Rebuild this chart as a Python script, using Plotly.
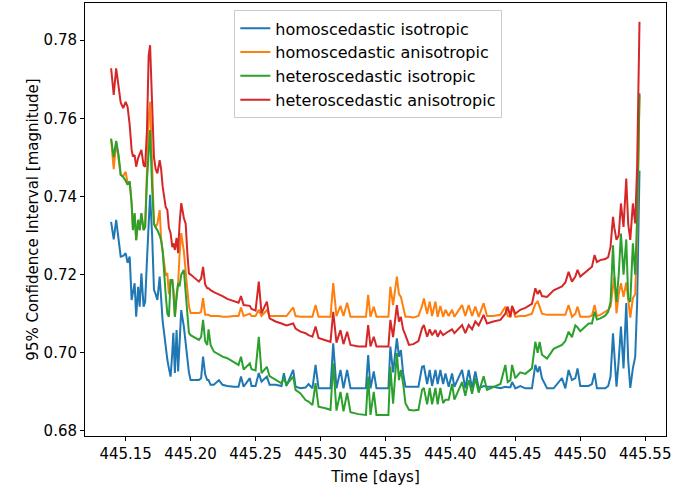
import plotly.graph_objects as go

time_days = [445.1388, 445.1408, 445.1427, 445.1446, 445.1462, 445.1481, 445.1500, 445.1515, 445.1531, 445.1546,
             445.1556, 445.1569, 445.1581, 445.1596, 445.1608, 445.1621, 445.1638, 445.1650, 445.1664, 445.1677,
             445.1688, 445.1704, 445.1718, 445.1731, 445.1744, 445.1762, 445.1773, 445.1785, 445.1796, 445.1808,
             445.1821, 445.1833, 445.1846, 445.1859, 445.1867, 445.1879, 445.1892, 445.1904, 445.1915, 445.1928,
             445.1948, 445.1962, 445.1975, 445.1987, 445.2000, 445.2031, 445.2064, 445.2081, 445.2096, 445.2112,
             445.2128, 445.2138, 445.2154, 445.2179, 445.2218, 445.2246, 445.2282, 445.2333, 445.2369, 445.2388,
             445.2408, 445.2456, 445.2469, 445.2500, 445.2525, 445.2546, 445.2587, 445.2608, 445.2654, 445.2700,
             445.2718, 445.2738, 445.2790, 445.2808, 445.2846, 445.2885, 445.2908, 445.2938, 445.2962, 445.2985,
             445.3038, 445.3077, 445.3098, 445.3123, 445.3154, 445.3177, 445.3205, 445.3231, 445.3292, 445.3350,
             445.3367, 445.3385, 445.3410, 445.3431, 445.3477, 445.3523, 445.3538, 445.3559, 445.3588, 445.3604,
             445.3619, 445.3636, 445.3654, 445.3681, 445.3715, 445.3754, 445.3782, 445.3796, 445.3821, 445.3841,
             445.3859, 445.3885, 445.3902, 445.3923, 445.3944, 445.3962, 445.3987, 445.4013, 445.4031, 445.4090,
             445.4115, 445.4141, 445.4167, 445.4192, 445.4218, 445.4256, 445.4282, 445.4331, 445.4385, 445.4423,
             445.4441, 445.4462, 445.4475, 445.4500, 445.4538, 445.4577, 445.4628, 445.4654, 445.4672, 445.4687,
             445.4705, 445.4744, 445.4795, 445.4859, 445.4885, 445.4910, 445.4936, 445.4962, 445.4979, 445.5000,
             445.5064, 445.5090, 445.5110, 445.5128, 445.5154, 445.5192, 445.5215, 445.5233, 445.5252, 445.5262,
             445.5279, 445.5296, 445.5313, 445.5333, 445.5354, 445.5369, 445.5385, 445.5405, 445.5423, 445.5438,
             445.5456]

homo_iso = [0.7335, 0.7290, 0.7340, 0.7290, 0.7246, 0.7248, 0.7255, 0.7230, 0.7246, 0.7135,
            0.7150, 0.7178, 0.7092, 0.7169, 0.7118, 0.7203, 0.7118, 0.7130, 0.7237, 0.7330,
            0.7404, 0.7300, 0.7161, 0.7150, 0.7135, 0.7195, 0.7130, 0.7080, 0.7051, 0.7010,
            0.6982, 0.6960, 0.6939, 0.7000, 0.7051, 0.6948, 0.7058, 0.6952, 0.7030, 0.7109,
            0.7067, 0.7020, 0.6982, 0.6950, 0.6930, 0.6930, 0.6930, 0.6935, 0.6990, 0.6945,
            0.6930, 0.6930, 0.6918, 0.6918, 0.6930, 0.6918, 0.6915, 0.6913, 0.6913, 0.6939,
            0.6913, 0.6935, 0.6915, 0.6915, 0.6948, 0.6926, 0.6939, 0.6918, 0.6918, 0.6915,
            0.6948, 0.6915, 0.6956, 0.6913, 0.6909, 0.6911, 0.6920, 0.6909, 0.6969, 0.6909,
            0.6909, 0.6909, 0.7024, 0.6909, 0.6956, 0.6909, 0.6956, 0.6909, 0.6909, 0.6909,
            0.6994, 0.6909, 0.6952, 0.6909, 0.6909, 0.6909, 0.7016, 0.6950, 0.7037, 0.6990,
            0.7007, 0.6948, 0.6913, 0.6913, 0.6913, 0.6913, 0.6964, 0.6966, 0.6920, 0.6956,
            0.6915, 0.6956, 0.6920, 0.6956, 0.6920, 0.6947, 0.6913, 0.6947, 0.6913, 0.6956,
            0.6909, 0.6956, 0.6909, 0.6952, 0.6909, 0.6915, 0.6913, 0.6913, 0.6909, 0.6913,
            0.6912, 0.6912, 0.6925, 0.6909, 0.6915, 0.6909, 0.6909, 0.6969, 0.6950, 0.6965,
            0.6935, 0.6909, 0.6909, 0.6935, 0.6909, 0.6956, 0.6930, 0.6935, 0.6960, 0.6915,
            0.6915, 0.6920, 0.6948, 0.6909, 0.6909, 0.6909, 0.6915, 0.6939, 0.7050, 0.7000,
            0.6913, 0.6980, 0.7067, 0.6960, 0.7127, 0.6980, 0.6910, 0.6960, 0.6990, 0.7130,
            0.7466]

homo_aniso = [0.7546, 0.7470, 0.7540, 0.7500, 0.7455, 0.7452, 0.7463, 0.7434, 0.7438, 0.7382,
              0.7314, 0.7357, 0.7288, 0.7340, 0.7314, 0.7357, 0.7314, 0.7322, 0.7459, 0.7600,
              0.7642, 0.7450, 0.7330, 0.7322, 0.7330, 0.7365, 0.7290, 0.7260, 0.7230, 0.7200,
              0.7203, 0.7150, 0.7186, 0.7186, 0.7160, 0.7092, 0.7150, 0.7178, 0.7250, 0.7306,
              0.7260, 0.7200, 0.7161, 0.7120, 0.7102, 0.7102, 0.7102, 0.7105, 0.7140, 0.7097,
              0.7097, 0.7097, 0.7094, 0.7094, 0.7094, 0.7092, 0.7092, 0.7094, 0.7094, 0.7116,
              0.7094, 0.7100, 0.7094, 0.7094, 0.7110, 0.7094, 0.7109, 0.7094, 0.7094, 0.7094,
              0.7094, 0.7094, 0.7116, 0.7094, 0.7092, 0.7092, 0.7092, 0.7092, 0.7122, 0.7092,
              0.7092, 0.7092, 0.7178, 0.7094, 0.7120, 0.7094, 0.7128, 0.7092, 0.7092, 0.7092,
              0.7148, 0.7092, 0.7118, 0.7092, 0.7092, 0.7092, 0.7169, 0.7122, 0.7195, 0.7150,
              0.7143, 0.7120, 0.7092, 0.7092, 0.7090, 0.7094, 0.7120, 0.7139, 0.7100, 0.7131,
              0.7094, 0.7131, 0.7092, 0.7120, 0.7092, 0.7110, 0.7094, 0.7110, 0.7092, 0.7122,
              0.7094, 0.7122, 0.7094, 0.7118, 0.7092, 0.7127, 0.7094, 0.7094, 0.7097, 0.7118,
              0.7094, 0.7092, 0.7118, 0.7092, 0.7094, 0.7094, 0.7100, 0.7125, 0.7131, 0.7118,
              0.7100, 0.7097, 0.7097, 0.7097, 0.7097, 0.7122, 0.7092, 0.7100, 0.7118, 0.7092,
              0.7092, 0.7095, 0.7122, 0.7094, 0.7097, 0.7105, 0.7110, 0.7118, 0.7175, 0.7195,
              0.7101, 0.7150, 0.7178, 0.7143, 0.7180, 0.7130, 0.7090, 0.7140, 0.7150, 0.7300,
              0.7660]

hetero_iso = [0.7548, 0.7500, 0.7542, 0.7505, 0.7455, 0.7450, 0.7440, 0.7430, 0.7438, 0.7382,
              0.7314, 0.7357, 0.7288, 0.7340, 0.7314, 0.7357, 0.7314, 0.7322, 0.7440, 0.7530,
              0.7570, 0.7420, 0.7330, 0.7320, 0.7314, 0.7300, 0.7288, 0.7260, 0.7200, 0.7150,
              0.7100, 0.7092, 0.7186, 0.7186, 0.7160, 0.7092, 0.7140, 0.7178, 0.7170, 0.7200,
              0.7212, 0.7150, 0.7080, 0.7051, 0.7045, 0.7040, 0.7033, 0.7040, 0.7084, 0.7030,
              0.7020, 0.7060, 0.7020, 0.7003, 0.6995, 0.6990, 0.6986, 0.6975, 0.6969, 0.6990,
              0.6957, 0.6973, 0.6958, 0.6955, 0.7041, 0.6948, 0.6964, 0.6940, 0.6930, 0.6922,
              0.6935, 0.6918, 0.6939, 0.6905, 0.6896, 0.6879, 0.6875, 0.6866, 0.6922, 0.6862,
              0.6858, 0.6854, 0.6973, 0.6852, 0.6900, 0.6850, 0.6897, 0.6848, 0.6843, 0.6841,
              0.6939, 0.6841, 0.6900, 0.6841, 0.6841, 0.6841, 0.6964, 0.6870, 0.6999, 0.6930,
              0.6956, 0.6922, 0.6871, 0.6854, 0.6852, 0.6854, 0.6905, 0.6910, 0.6868, 0.6910,
              0.6868, 0.6910, 0.6868, 0.6910, 0.6871, 0.6880, 0.6880, 0.6920, 0.6880, 0.6925,
              0.6890, 0.6930, 0.6895, 0.6935, 0.6898, 0.6940, 0.6905, 0.6912, 0.6920, 0.6969,
              0.6925, 0.6930, 0.6969, 0.6935, 0.6950, 0.6946, 0.6960, 0.7028, 0.7000, 0.7028,
              0.6995, 0.6985, 0.7010, 0.7020, 0.7030, 0.7054, 0.7040, 0.7070, 0.7065, 0.7055,
              0.7075, 0.7075, 0.7105, 0.7085, 0.7088, 0.7095, 0.7105, 0.7130, 0.7275, 0.7200,
              0.7130, 0.7200, 0.7305, 0.7200, 0.7290, 0.7140, 0.7130, 0.7280, 0.7200, 0.7350,
              0.7664]

hetero_aniso = [0.7728, 0.7660, 0.7728, 0.7680, 0.7640, 0.7626, 0.7642, 0.7629, 0.7583, 0.7519,
                0.7502, 0.7506, 0.7476, 0.7498, 0.7510, 0.7519, 0.7480, 0.7476, 0.7570, 0.7760,
                0.7787, 0.7629, 0.7500, 0.7470, 0.7459, 0.7493, 0.7470, 0.7425, 0.7400, 0.7373,
                0.7365, 0.7320, 0.7306, 0.7270, 0.7280, 0.7263, 0.7294, 0.7255, 0.7330, 0.7383,
                0.7345, 0.7330, 0.7255, 0.7203, 0.7200, 0.7192, 0.7182, 0.7190, 0.7220, 0.7175,
                0.7165, 0.7165, 0.7160, 0.7155, 0.7150, 0.7145, 0.7138, 0.7131, 0.7128, 0.7145,
                0.7122, 0.7120, 0.7112, 0.7108, 0.7182, 0.7101, 0.7131, 0.7088, 0.7080, 0.7075,
                0.7073, 0.7070, 0.7075, 0.7062, 0.7054, 0.7050, 0.7045, 0.7041, 0.7067, 0.7038,
                0.7032, 0.7028, 0.7105, 0.7026, 0.7058, 0.7022, 0.7054, 0.7020, 0.7016, 0.7016,
                0.7071, 0.7016, 0.7041, 0.7016, 0.7016, 0.7016, 0.7084, 0.7040, 0.7122, 0.7080,
                0.7092, 0.7060, 0.7045, 0.7020, 0.7022, 0.7030, 0.7063, 0.7071, 0.7041, 0.7060,
                0.7045, 0.7058, 0.7041, 0.7055, 0.7045, 0.7050, 0.7055, 0.7060, 0.7050, 0.7071,
                0.7050, 0.7071, 0.7060, 0.7080, 0.7070, 0.7097, 0.7075, 0.7080, 0.7084, 0.7100,
                0.7118, 0.7092, 0.7120, 0.7100, 0.7110, 0.7115, 0.7125, 0.7165, 0.7150, 0.7160,
                0.7145, 0.7143, 0.7160, 0.7170, 0.7180, 0.7207, 0.7182, 0.7195, 0.7212, 0.7195,
                0.7212, 0.7220, 0.7250, 0.7232, 0.7237, 0.7240, 0.7245, 0.7271, 0.7348, 0.7320,
                0.7289, 0.7300, 0.7382, 0.7322, 0.7446, 0.7330, 0.7289, 0.7382, 0.7331, 0.7480,
                0.7847]

series_names = ["homoscedastic isotropic", "homoscedastic anisotropic",
                "heteroscedastic isotropic", "heteroscedastic anisotropic"]
series_values = [homo_iso, homo_aniso, hetero_iso, hetero_aniso]
series_colors = ["#1f77b4", "#ff7f0e", "#2ca02c", "#d62728"]

x_ticks = [445.15, 445.20, 445.25, 445.30, 445.35, 445.40, 445.45, 445.50, 445.55]
x_tick_labels = ["445.15", "445.20", "445.25", "445.30", "445.35", "445.40", "445.45", "445.50", "445.55"]
y_ticks = [0.68, 0.70, 0.72, 0.74, 0.76, 0.78]
y_tick_labels = ["0.68", "0.70", "0.72", "0.74", "0.76", "0.78"]

for v in series_values:
    assert len(v) == len(time_days)

FONT = "DejaVu Sans"
fig = go.Figure()
for i, (name, vals, col) in enumerate(zip(series_names, series_values, series_colors)):
    fig.add_trace(go.Scatter(x=time_days, y=vals, mode="lines", name=name,
                             legendgroup=f"g{i}",
                             line=dict(color=col, width=2)))

fig.update_layout(
    width=673, height=486,
    margin=dict(l=85, r=7, t=3, b=50),
    paper_bgcolor="white", plot_bgcolor="white",
    font=dict(family=FONT, size=15, color="black"),
    showlegend=True,
    legend=dict(x=0.257, y=0.983, xanchor="left", yanchor="top",
                bgcolor="rgba(255,255,255,0.8)", bordercolor="#cccccc", borderwidth=1,
                font=dict(family=FONT, size=16, color="black"),
                traceorder="grouped", tracegroupgap=0),
)
fig.update_xaxes(range=[445.1187, 445.566], tickvals=x_ticks, ticktext=x_tick_labels,
                 showline=True, linecolor="black", linewidth=1, mirror=True,
                 ticks="outside", ticklen=4, tickcolor="black", showgrid=False, zeroline=False,
                 title=dict(text="Time [days]", standoff=9, font=dict(family=FONT, size=15)))
fig.update_yaxes(range=[0.6787, 0.7895], tickvals=y_ticks, ticktext=y_tick_labels,
                 showline=True, linecolor="black", linewidth=1, mirror=True,
                 ticks="outside", ticklen=4, tickcolor="black", showgrid=False, zeroline=False,
                 title=dict(text="95% Confidence Interval [magnitude]", standoff=1,
                            font=dict(family=FONT, size=15)))

fig.write_html("out.html")
